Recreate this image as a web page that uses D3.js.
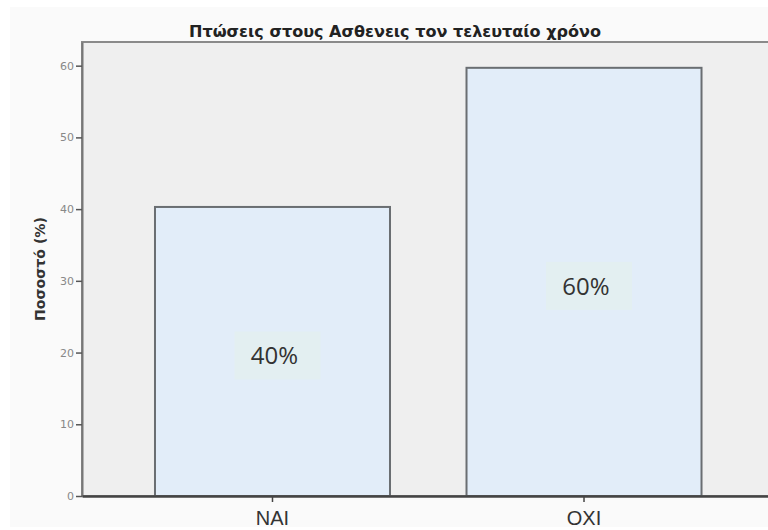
<!DOCTYPE html>
<html>
<head>
<meta charset="utf-8">
<script src="https://cdn.jsdelivr.net/npm/d3@7"></script>
<style>
  body { margin: 0; background: #fff; }
  svg { display: block; }
</style>
</head>
<body>
<svg id="chart" width="768" height="530"></svg>
<script>
var categories = ['ΝΑΙ', 'ΟΧΙ'];
var values = [40.3, 59.7];
var valueLabels = ['40%', '60%'];
var yTicks = [0, 10, 20, 30, 40, 50, 60];
var title = 'Πτώσεις στους Ασθενεις τον τελευταίο χρόνο';
var yTitle = 'Ποσοστό (%)';

var svg = d3.select('#chart');
var plot = { left: 82, right: 774.5, top: 42, bottom: 496 };

// faint outer panel
svg.append('rect')
  .attr('x', 10).attr('y', 7)
  .attr('width', 760).attr('height', 520)
  .attr('fill', '#fafafa');

var x = d3.scaleBand()
  .domain(categories)
  .range([plot.left, plot.right])
  .paddingInner(0.2456)
  .paddingOuter(0.2343);

var y = d3.scaleLinear()
  .domain([0, 63.3])
  .range([plot.bottom, plot.top]);

svg.append('rect')
  .attr('x', plot.left).attr('y', plot.top)
  .attr('width', plot.right - plot.left)
  .attr('height', plot.bottom - plot.top)
  .attr('fill', '#efefef')
  .attr('stroke', '#8a8a8a')
  .attr('stroke-width', 2);

var bars = svg.selectAll('.bar')
  .data(values)
  .enter()
  .append('g')
  .classed('bar', true);

bars.append('rect')
  .attr('x', (d, i) => x(categories[i]))
  .attr('y', d => y(d))
  .attr('width', x.bandwidth())
  .attr('height', d => y(0) - y(d))
  .attr('fill', '#e2edf9')
  .attr('stroke', '#6a6e72')
  .attr('stroke-width', 2);

function mid(i) {
  return x(categories[i]) + x.bandwidth() / 2;
}

// value label boxes
bars.append('rect')
  .attr('x', (d, i) => mid(i) + 5 - 43)
  .attr('y', d => y(d / 2) + 4 - 24)
  .attr('width', 86)
  .attr('height', 48)
  .attr('fill', '#e3eff1');

bars.append('text')
  .attr('x', (d, i) => mid(i) + 2)
  .attr('y', d => y(d / 2) + 4 + 9)
  .attr('text-anchor', 'middle')
  .attr('font-family', 'Open Sans, sans-serif')
  .attr('font-size', 24)
  .attr('fill', '#333')
  .text((d, i) => valueLabels[i]);

// y axis
var yAxis = svg.append('g')
  .attr('transform', `translate(${plot.left},0)`)
  .call(d3.axisLeft(y).tickValues(yTicks).tickSize(6).tickSizeOuter(0));
yAxis.select('.domain').attr('stroke', '#777').attr('stroke-width', 2);
yAxis.selectAll('.tick line').attr('stroke', '#555').attr('stroke-width', 1.5);
yAxis.selectAll('.tick text')
  .attr('font-family', 'DejaVu Sans, sans-serif')
  .attr('font-size', 11)
  .attr('fill', '#888')
  .attr('x', -8);

// x axis
var xAxis = svg.append('g')
  .attr('transform', `translate(0,${plot.bottom})`)
  .call(d3.axisBottom(x).tickSize(6).tickSizeOuter(0));
xAxis.select('.domain').attr('stroke', '#444').attr('stroke-width', 2.5);
xAxis.selectAll('.tick line').attr('stroke', '#444').attr('stroke-width', 1.5);
xAxis.selectAll('.tick text')
  .attr('font-family', 'Liberation Sans, Arial, sans-serif')
  .attr('font-size', 20)
  .attr('fill', '#333')
  .attr('y', 15)
  .attr('dy', '0.71em');

// title
svg.append('text')
  .attr('x', 395).attr('y', 37)
  .attr('text-anchor', 'middle')
  .attr('font-family', 'DejaVu Sans, sans-serif')
  .attr('font-weight', 'bold')
  .attr('font-size', 15.5)
  .attr('textLength', 412)
  .attr('lengthAdjust', 'spacingAndGlyphs')
  .attr('fill', '#222')
  .text(title);

svg.append('text')
  .attr('transform', `translate(45,${(plot.top + plot.bottom) / 2}) rotate(-90)`)
  .attr('text-anchor', 'middle')
  .attr('font-family', 'DejaVu Sans, sans-serif')
  .attr('font-weight', 'bold')
  .attr('font-size', 13.5)
  .attr('textLength', 104)
  .attr('lengthAdjust', 'spacingAndGlyphs')
  .attr('fill', '#333')
  .text(yTitle);
</script>
</body>
</html>
